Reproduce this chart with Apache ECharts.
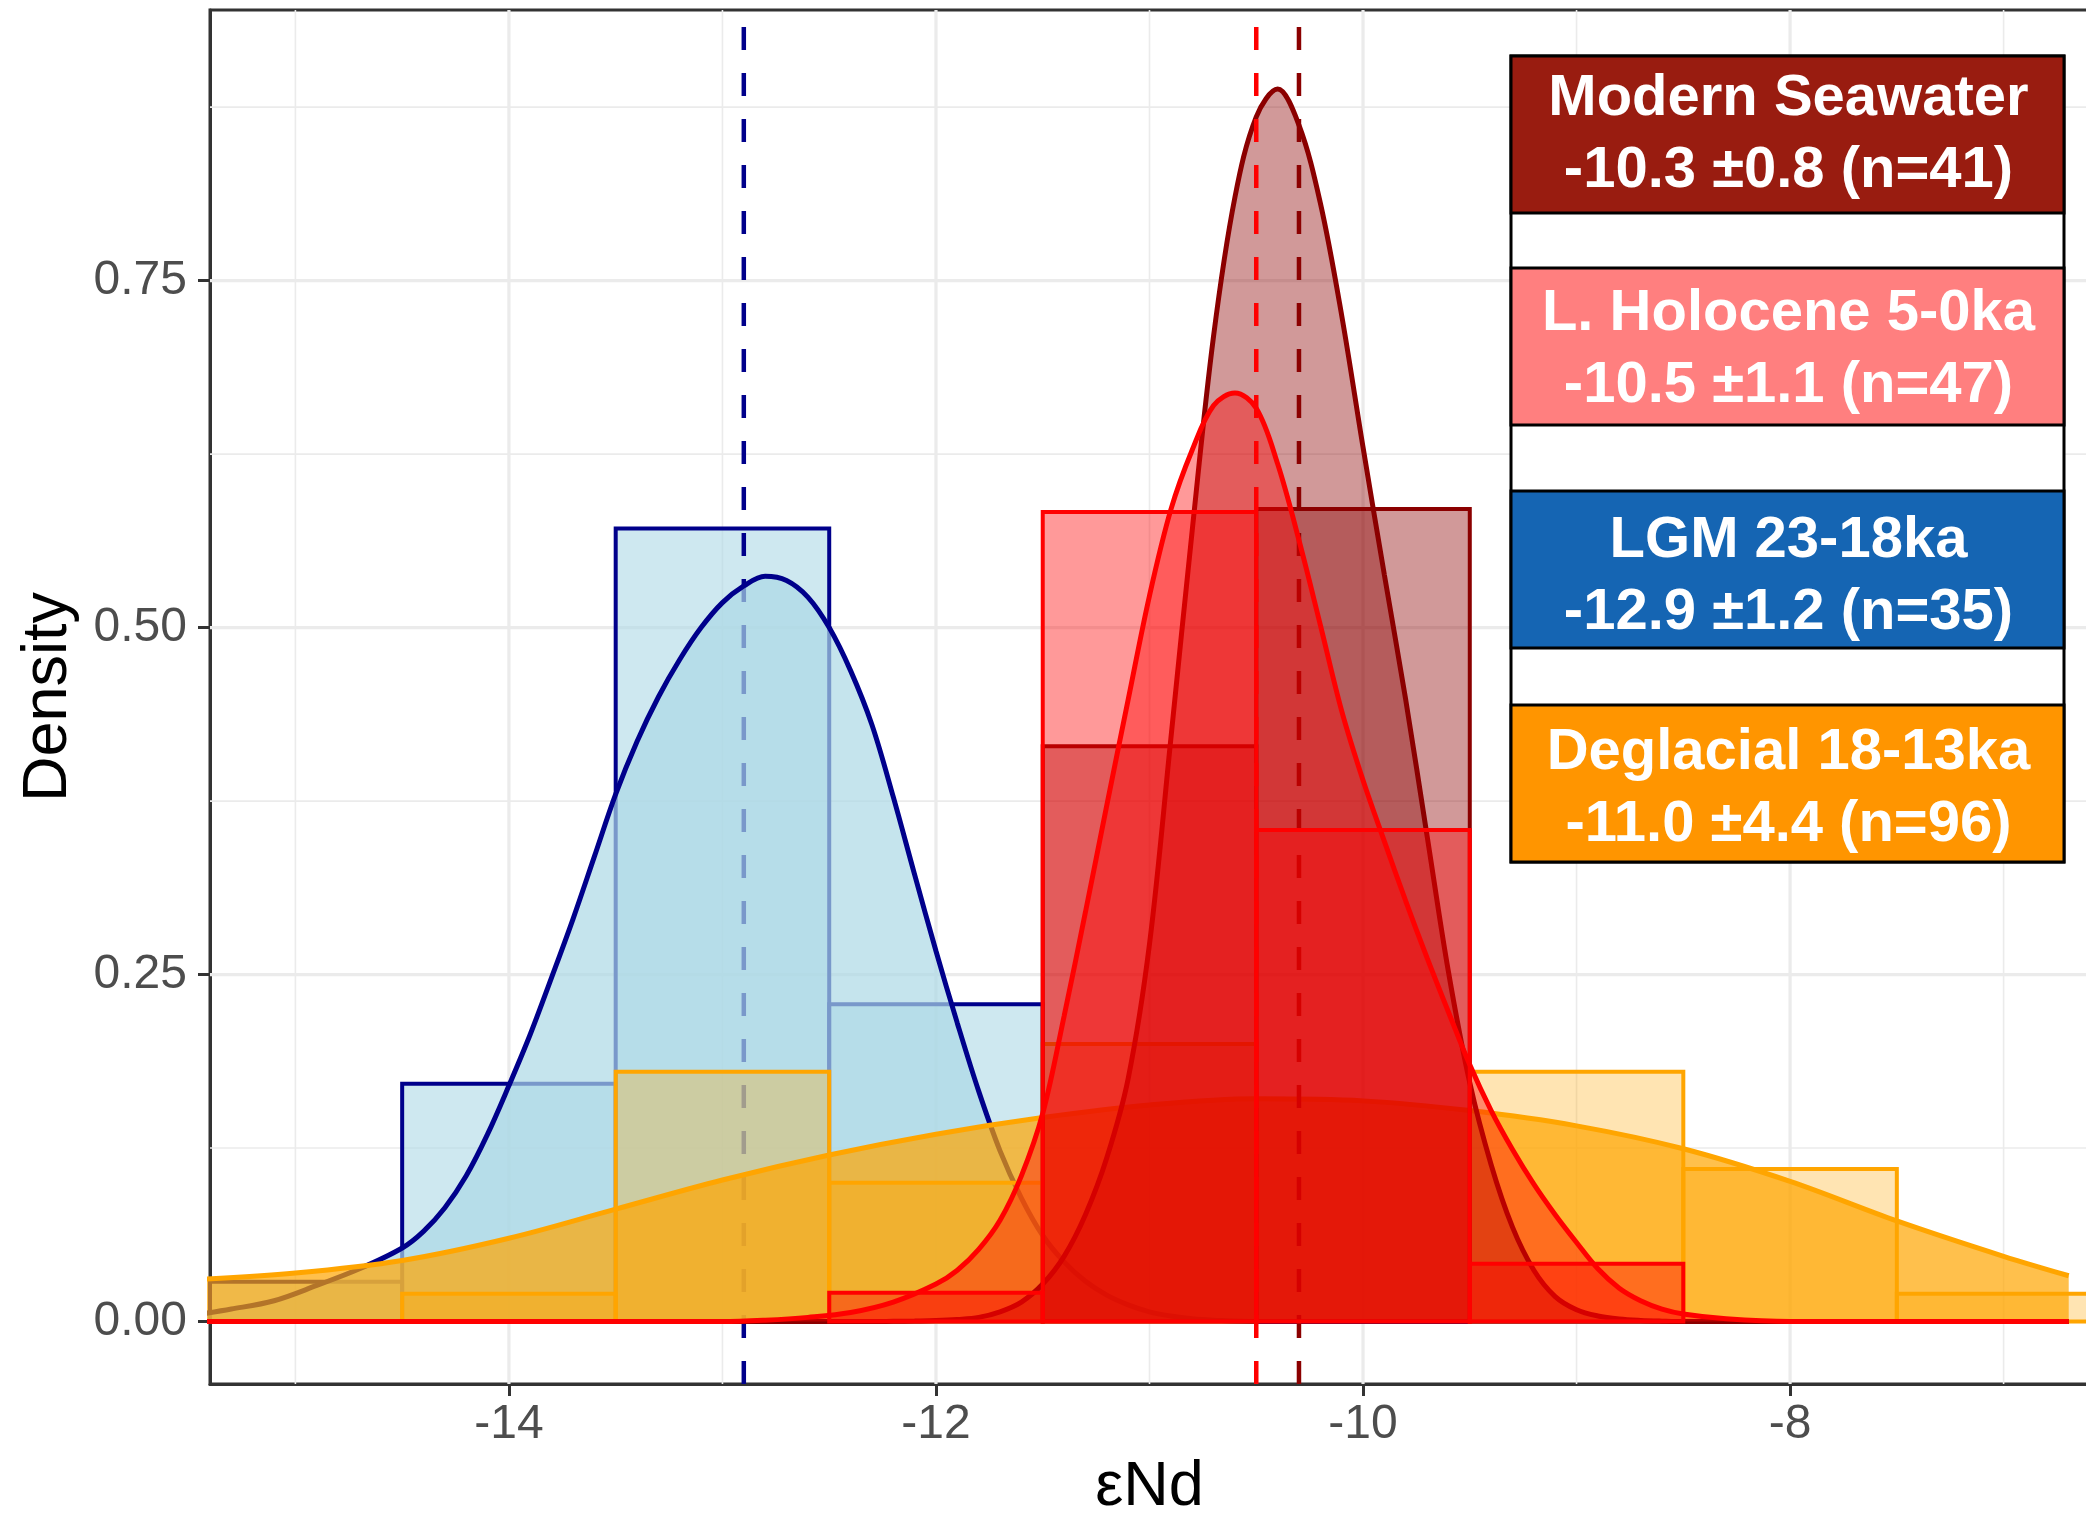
<!DOCTYPE html>
<html>
<head>
<meta charset="utf-8">
<script src="https://cdn.jsdelivr.net/npm/echarts@6/dist/echarts.min.js"></script>
<style>
  html, body { margin: 0; padding: 0; background: #ffffff; }
  #chart { width: 2086px; height: 1517px; }
</style>
</head>
<body>
<div id="chart"></div>
<script>
// ---- axis ranges and ticks ----
const xRange = [-15.4, -6.6];
const yRange = [-0.045, 0.945];
const xMajorTicks = [-14, -12, -10, -8];
const xMinorTicks = [-15, -13, -11, -9, -7];
const yMajorTicks = [0, 0.25, 0.5, 0.75];
const yMinorTicks = [0.125, 0.375, 0.625, 0.875];

// ---- group summaries (legend) ----
const groupNames = ['Modern Seawater', 'L. Holocene 5-0ka', 'LGM 23-18ka', 'Deglacial 18-13ka'];
const groupMeans = [-10.3, -10.5, -12.9, -11.0];
const groupSD = [0.8, 1.1, 1.2, 4.4];
const groupN = [41, 47, 35, 96];

// ---- histograms: bin left edges and densities (bin width 1) ----
const binWidth = 1;
const lgmBinStart = [-15.5, -14.5, -13.5, -12.5];
const lgmBinDensity = [0.0286, 0.1714, 0.5714, 0.2286];
const degBinStart = [-14.5, -13.5, -12.5, -11.5, -9.5, -8.5, -7.5];
const degBinDensity = [0.02, 0.18, 0.10, 0.20, 0.18, 0.11, 0.02];
const modBinStart = [-11.5, -10.5];
const modBinDensity = [0.4146, 0.5854];
const holBinStart = [-12.5, -11.5, -10.5, -9.5];
const holBinDensity = [0.0208, 0.5833, 0.3542, 0.0417];

// ---- kernel density curves [εNd, density] ----
const lgmDensity = [
  [-15.5, 0.004], [-15.3, 0.009], [-15.1, 0.015], [-14.9, 0.026], [-14.7, 0.038],
  [-14.5, 0.053], [-14.4, 0.065], [-14.3, 0.082], [-14.2, 0.105], [-14.1, 0.135],
  [-14.0, 0.170], [-13.9, 0.207], [-13.8, 0.248], [-13.7, 0.290], [-13.6, 0.335],
  [-13.5, 0.380], [-13.4, 0.418], [-13.3, 0.450], [-13.2, 0.477], [-13.1, 0.500],
  [-13.0, 0.518], [-12.9, 0.530], [-12.8, 0.537], [-12.7, 0.534], [-12.6, 0.522],
  [-12.5, 0.500], [-12.4, 0.469], [-12.3, 0.430], [-12.2, 0.378], [-12.1, 0.322],
  [-12.0, 0.267], [-11.9, 0.215], [-11.8, 0.166], [-11.7, 0.123], [-11.6, 0.089],
  [-11.5, 0.062], [-11.4, 0.043], [-11.3, 0.029], [-11.2, 0.019], [-11.1, 0.012],
  [-11.0, 0.007], [-10.9, 0.004], [-10.8, 0.002], [-10.7, 0.001], [-10.5, 0.0],
  [-6.695, 0.0]
];
const degDensity = [
  [-15.5, 0.030], [-15.0, 0.035], [-14.5, 0.044], [-14.0, 0.060], [-13.5, 0.081],
  [-13.0, 0.102], [-12.5, 0.120], [-12.0, 0.135], [-11.5, 0.147], [-11.0, 0.156],
  [-10.5, 0.1605], [-10.0, 0.159], [-9.5, 0.152], [-9.0, 0.141], [-8.5, 0.1245],
  [-8.0, 0.101], [-7.5, 0.0725], [-7.0, 0.047], [-6.695, 0.033]
];
const modDensity = [
  [-15.5, 0.0], [-12.3, 0.0], [-12.2, 0.0002], [-12.1, 0.0004], [-12.0, 0.0007],
  [-11.9, 0.0015], [-11.8, 0.003], [-11.7, 0.007], [-11.6, 0.014], [-11.5, 0.027],
  [-11.4, 0.047], [-11.3, 0.077], [-11.2, 0.118], [-11.1, 0.175], [-11.0, 0.272],
  [-10.9, 0.420], [-10.8, 0.570], [-10.7, 0.710], [-10.6, 0.810], [-10.5, 0.868],
  [-10.4, 0.888], [-10.3, 0.862], [-10.2, 0.806], [-10.1, 0.725], [-10.0, 0.630],
  [-9.9, 0.538], [-9.8, 0.448], [-9.7, 0.350], [-9.6, 0.252], [-9.5, 0.172],
  [-9.4, 0.113], [-9.3, 0.068], [-9.2, 0.037], [-9.1, 0.018], [-9.0, 0.0085],
  [-8.9, 0.004], [-8.8, 0.0018], [-8.7, 0.0008], [-8.6, 0.0003], [-8.5, 0.0],
  [-6.695, 0.0]
];
const holDensity = [
  [-15.5, 0.0], [-13.0, 0.0], [-12.8, 0.001], [-12.6, 0.003], [-12.4, 0.0065],
  [-12.2, 0.014], [-12.0, 0.027], [-11.9, 0.037], [-11.8, 0.052], [-11.7, 0.073],
  [-11.6, 0.105], [-11.5, 0.150], [-11.4, 0.220], [-11.3, 0.295], [-11.2, 0.372],
  [-11.1, 0.448], [-11.0, 0.523], [-10.9, 0.585], [-10.8, 0.628], [-10.7, 0.660],
  [-10.6, 0.669], [-10.5, 0.658], [-10.4, 0.618], [-10.3, 0.563], [-10.2, 0.502],
  [-10.1, 0.440], [-10.0, 0.390], [-9.9, 0.346], [-9.8, 0.303], [-9.7, 0.262],
  [-9.6, 0.223], [-9.5, 0.185], [-9.4, 0.152], [-9.3, 0.124], [-9.2, 0.099],
  [-9.1, 0.077], [-9.0, 0.057], [-8.9, 0.038], [-8.8, 0.024], [-8.7, 0.015],
  [-8.6, 0.009], [-8.5, 0.0055], [-8.3, 0.002], [-8.0, 0.0], [-6.695, 0.0]
];

// ---- styling ----
const FONT = '"Liberation Sans", Arial, Helvetica, sans-serif';
const colors = {
  lgm:  { line: '#00008B', histFill: 'rgba(173,216,230,0.6)', densFill: 'rgba(173,216,230,0.7)' },
  deg:  { line: '#FFA500', histFill: 'rgba(255,165,0,0.3)',  densFill: 'rgba(255,165,0,0.7)' },
  mod:  { line: '#8B0000', histFill: 'rgba(139,0,0,0.4)',    densFill: 'rgba(139,0,0,0.4)' },
  hol:  { line: '#FF0000', histFill: 'rgba(255,0,0,0.4)',    densFill: 'rgba(255,0,0,0.4)' }
};
const legendFill = ['#991C10', '#FF7F7F', '#1565B3', '#FF9500'];

// ---- render helpers ----
function clipToGrid(params, rect) {
  return echarts.graphic.clipRectByRect(rect, {
    x: params.coordSys.x, y: params.coordSys.y,
    width: params.coordSys.width, height: params.coordSys.height
  });
}

function histSeries(starts, dens, c, z) {
  return {
    type: 'custom', coordinateSystem: 'cartesian2d', silent: true, z: z,
    data: starts.map((s, i) => [s, dens[i]]),
    renderItem: function (params, api) {
      const x0 = api.value(0), h = api.value(1);
      const pTop = api.coord([x0, h]);
      const pBot = api.coord([x0 + binWidth, 0]);
      const rect = clipToGrid(params, {
        x: pTop[0], y: pTop[1], width: pBot[0] - pTop[0], height: pBot[1] - pTop[1]
      });
      if (!rect) return null;
      return { type: 'rect', shape: rect, style: { fill: c.histFill, stroke: c.line, lineWidth: 4 } };
    }
  };
}

function densitySeries(points, c, z) {
  return {
    type: 'line', data: points, showSymbol: false, smooth: 0.35, silent: true, z: z,
    clip: true,
    lineStyle: { color: c.line, width: 5 },
    areaStyle: { color: c.densFill, opacity: 1, origin: 'auto' }
  };
}

function meanLineSeries(mean, color, z) {
  return {
    type: 'line', data: [[mean, yRange[0]], [mean, yRange[1]]], showSymbol: false,
    silent: true, z: z, clip: true,
    lineStyle: { color: color, width: 4.5, type: [23, 23] }
  };
}

function gridSeries(values, vertical, width) {
  return {
    type: 'custom', coordinateSystem: 'cartesian2d', silent: true, z: 1,
    data: values.map(v => vertical ? [v, 0] : [xRange[0], v]),
    renderItem: function (params, api) {
      let a, b;
      if (vertical) {
        const v = api.value(0);
        a = api.coord([v, yRange[0]]); b = api.coord([v, yRange[1]]);
      } else {
        const v = api.value(1);
        a = api.coord([xRange[0], v]); b = api.coord([xRange[1], v]);
      }
      return { type: 'line', shape: { x1: a[0], y1: a[1], x2: b[0], y2: b[1] },
               style: { stroke: '#EBEBEB', lineWidth: width } };
    }
  };
}

// ---- legend panel ----
const legendLeft = 1511, legendWidth = 553;
const legendBoxTop = [56, 268, 491, 705];
const legendBoxHeight = 157;
const legendTextShift = [0, 3.5, 7.5, 5.5];
const graphics = [{
  type: 'rect', z: 100,
  shape: { x: legendLeft, y: legendBoxTop[0], width: legendWidth,
           height: legendBoxTop[3] + legendBoxHeight - legendBoxTop[0] },
  style: { fill: '#ffffff', stroke: '#000000', lineWidth: 3 }
}];
groupNames.forEach((name, i) => {
  graphics.push({
    type: 'rect', z: 101,
    shape: { x: legendLeft, y: legendBoxTop[i], width: legendWidth, height: legendBoxHeight },
    style: { fill: legendFill[i], stroke: '#000000', lineWidth: 3 }
  });
  graphics.push({
    type: 'text', z: 102,
    x: legendLeft + legendWidth / 2 + 1,
    y: legendBoxTop[i] + legendBoxHeight / 2 + legendTextShift[i],
    style: {
      text: name + '\n' + groupMeans[i].toFixed(1) + ' \u00B1' + groupSD[i].toFixed(1) + ' (n=' + groupN[i] + ')',
      fill: '#ffffff', fontSize: 58, fontWeight: 'bold', fontFamily: FONT,
      align: 'center', verticalAlign: 'middle', lineHeight: 72
    }
  });
});

const chart = echarts.init(document.getElementById('chart'), null, { renderer: 'canvas' });
chart.setOption({
  animation: false,
  backgroundColor: '#ffffff',
  grid: {
    left: 210, top: 10, right: -3, bottom: 133,
    containLabel: false, outerBoundsMode: 'none',
    show: true, borderColor: '#333333', borderWidth: 3, backgroundColor: 'transparent'
  },
  xAxis: {
    type: 'value', min: xRange[0], max: xRange[1],
    name: '\u03B5Nd', nameLocation: 'middle', nameGap: 72,
    nameTextStyle: { fontSize: 63, color: '#000000', fontFamily: FONT },
    axisLine: { show: true, onZero: false, lineStyle: { color: '#333333', width: 3 } },
    axisTick: { show: true, customValues: xMajorTicks, length: 12, lineStyle: { color: '#333333', width: 3 } },
    axisLabel: { customValues: xMajorTicks, fontSize: 48, color: '#4D4D4D', fontFamily: FONT, margin: 17 },
    splitLine: { show: false }
  },
  yAxis: {
    type: 'value', min: yRange[0], max: yRange[1],
    name: 'Density', nameLocation: 'middle', nameGap: 130, nameRotate: 90,
    nameTextStyle: { fontSize: 63, color: '#000000', fontFamily: FONT },
    axisLine: { show: true, onZero: false, lineStyle: { color: '#333333', width: 3 } },
    axisTick: { show: true, customValues: yMajorTicks, length: 12, lineStyle: { color: '#333333', width: 3 } },
    axisLabel: { customValues: yMajorTicks, fontSize: 48, color: '#4D4D4D', fontFamily: FONT, margin: 23,
                 formatter: v => v.toFixed(2) },
    splitLine: { show: false }
  },
  series: [
    gridSeries(xMinorTicks, true, 1.6),
    gridSeries(yMinorTicks, false, 1.6),
    gridSeries(xMajorTicks, true, 3.2),
    gridSeries(yMajorTicks, false, 3.2),
    histSeries(lgmBinStart, lgmBinDensity, colors.lgm, 2),
    meanLineSeries(groupMeans[2], colors.lgm.line, 3),
    densitySeries(lgmDensity, colors.lgm, 4),
    histSeries(degBinStart, degBinDensity, colors.deg, 5),
    densitySeries(degDensity, colors.deg, 6),
    histSeries(modBinStart, modBinDensity, colors.mod, 7),
    meanLineSeries(groupMeans[0], colors.mod.line, 8),
    densitySeries(modDensity, colors.mod, 9),
    histSeries(holBinStart, holBinDensity, colors.hol, 10),
    meanLineSeries(groupMeans[1], colors.hol.line, 11),
    densitySeries(holDensity, colors.hol, 12)
  ],
  graphic: graphics
});
</script>
</body>
</html>
